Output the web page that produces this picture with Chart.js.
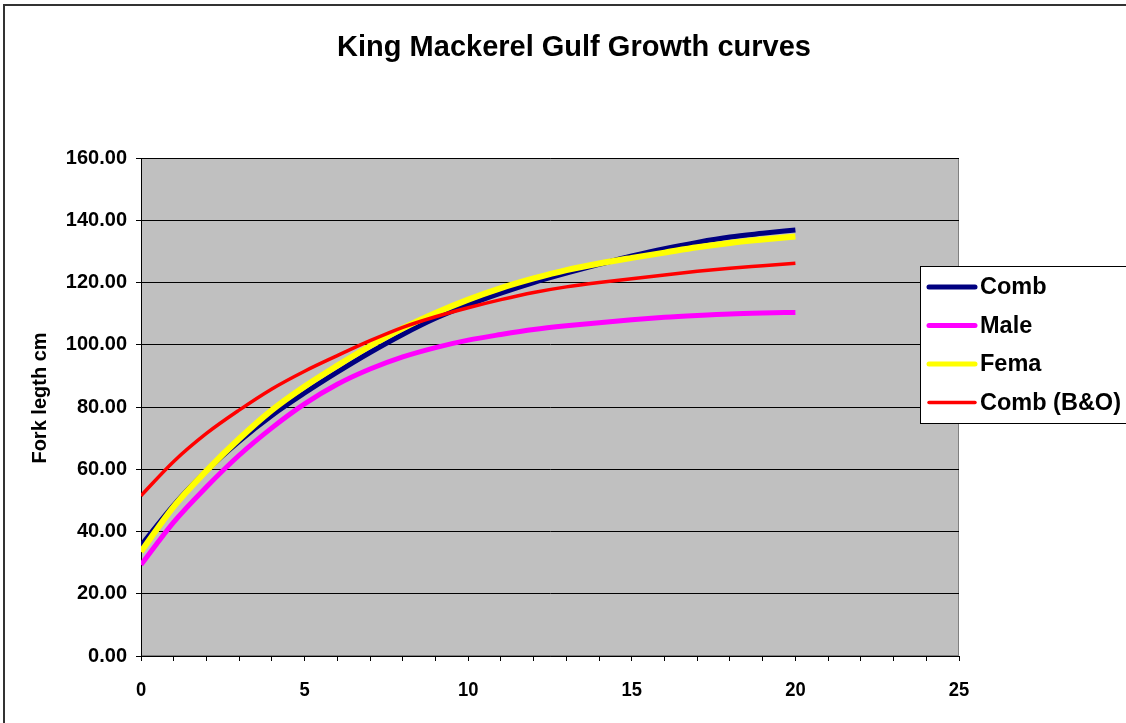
<!DOCTYPE html>
<html>
<head>
<meta charset="utf-8">
<script src="https://cdn.jsdelivr.net/npm/chart.js@4.4.1/dist/chart.umd.min.js"></script>
<style>
  html, body { margin: 0; padding: 0; background: #fff; }
  #wrap { width: 1126px; height: 723px; }
</style>
</head>
<body>
<div id="wrap"><canvas id="growth"></canvas></div>
<script>
// values (age in years, fork length in cm)
const ages = [0, 1, 2, 3, 4, 5, 6, 7, 8, 9, 10, 11, 12, 13, 14, 15, 16, 17, 18, 19, 20];
const comb = [35.5, 48.5, 59.5, 69, 77.3, 84.5, 91.2, 97.5, 103.3, 108.5, 112.8, 116.6, 120, 123, 125.8, 128.5, 130.9, 132.9, 134.6, 135.8, 136.9];
const male = [29.3, 43, 54.3, 64.5, 73.3, 81, 87.3, 92.2, 96.1, 99.1, 101.5, 103.3, 104.9, 106.1, 107.1, 108, 108.8, 109.4, 109.9, 110.2, 110.4];
const fema = [33.5, 48, 59.5, 69.8, 79, 86.6, 93.3, 99.6, 105.3, 110.2, 114.5, 118.2, 121.3, 124, 126.1, 127.9, 129.6, 131.3, 132.7, 133.8, 134.8];
const combBO = [51.5, 62.5, 71.5, 79, 85.8, 91.5, 96.5, 101.3, 105.6, 109, 111.9, 114.5, 116.8, 118.6, 120, 121.2, 122.4, 123.6, 124.6, 125.4, 126.2];
const yTicks = [0, 20, 40, 60, 80, 100, 120, 140, 160];
const xLabels = [0, 5, 10, 15, 20, 25];

const seriesNames = ['Comb', 'Male', 'Fema', 'Comb (B&O)'];
const seriesColors = ['#000080', '#ff00ff', '#ffff00', '#ff0000'];
const seriesWidths = [5, 5, 6, 3.5];
const seriesValues = [comb, male, fema, combBO];

const FONT = 'Arial, "Liberation Sans", sans-serif';

const decor = {
  id: 'decor',
  beforeDraw(chart) {
    const { ctx, chartArea: a } = chart;
    ctx.save();
    ctx.fillStyle = '#ffffff';
    ctx.fillRect(0, 0, chart.width, chart.height);
    ctx.fillStyle = '#c0c0c0';
    ctx.fillRect(a.left, a.top, a.right - a.left, a.bottom - a.top);
    ctx.strokeStyle = '#808080';
    ctx.lineWidth = 1;
    ctx.strokeRect(a.left + 0.5, a.top + 0.5, a.right - a.left - 1, a.bottom - a.top - 1);
    // outer chart border (right / bottom edges fall outside the picture)
    ctx.strokeStyle = '#333333';
    ctx.lineWidth = 2;
    ctx.beginPath();
    ctx.moveTo(4, chart.height);
    ctx.lineTo(4, 5);
    ctx.lineTo(chart.width, 5);
    ctx.stroke();
    ctx.restore();
  },
  afterDraw(chart) {
    const { ctx } = chart;
    ctx.save();
    ctx.fillStyle = '#000';

    // title
    ctx.font = 'bold 29px ' + FONT;
    ctx.textAlign = 'center';
    ctx.textBaseline = 'middle';
    ctx.fillText('King Mackerel Gulf Growth curves', 574, 48);

    // y axis title
    ctx.save();
    ctx.translate(40, 398);
    ctx.rotate(-Math.PI / 2);
    ctx.font = 'bold 20px ' + FONT;
    ctx.fillText('Fork legth cm', 0, 0);
    ctx.restore();

    // x tick labels
    const xs = chart.scales.x;
    ctx.font = 'bold 20px ' + FONT;
    xLabels.forEach(v => {
      ctx.save();
      ctx.translate(xs.getPixelForValue(v), 690);
      ctx.scale(0.92, 1);
      ctx.fillText(String(v), 0, 0);
      ctx.restore();
    });

    // legend
    const lx = 920, ly = 266, lh = 157;
    ctx.fillStyle = '#ffffff';
    ctx.fillRect(lx, ly, chart.width - lx + 2, lh);
    ctx.strokeStyle = '#000';
    ctx.lineWidth = 1;
    ctx.strokeRect(lx + 0.5, ly + 0.5, chart.width - lx + 2, lh);
    ctx.font = 'bold 23.5px ' + FONT;
    ctx.textAlign = 'left';
    chart.data.datasets.forEach((ds, i) => {
      const y = 287 + i * 38.5;
      ctx.strokeStyle = ds.borderColor;
      ctx.lineWidth = Math.min(ds.borderWidth, 5);
      ctx.lineCap = 'round';
      ctx.beginPath();
      ctx.moveTo(929, y);
      ctx.lineTo(975, y);
      ctx.stroke();
      ctx.fillStyle = '#000';
      ctx.fillText(ds.label, 980, y + 1);
    });
    ctx.restore();
  }
};

new Chart(document.getElementById('growth'), {
  type: 'line',
  data: {
    datasets: seriesNames.map((name, i) => ({
      label: name,
      data: ages.map((age, j) => ({ x: age, y: seriesValues[i][j] })),
      borderColor: seriesColors[i],
      borderWidth: seriesWidths[i],
      pointRadius: 0,
      cubicInterpolationMode: 'monotone',
      order: seriesNames.length - i
    }))
  },
  options: {
    responsive: true,
    maintainAspectRatio: false,
    animation: false,
    events: [],
    layout: { padding: { top: 158, right: 167, left: 0, bottom: 0 } },
    plugins: {
      legend: { display: false },
      title: { display: false },
      tooltip: { enabled: false }
    },
    scales: {
      x: {
        type: 'linear',
        min: 0,
        max: 25,
        afterFit: s => { s.height = 67; },
        ticks: {
          stepSize: 1,
          autoSkip: false,
          color: 'rgba(0,0,0,0)',
          callback: v => (v % 5 === 0 ? String(v) : '')
        },
        grid: { drawOnChartArea: false, color: '#000', tickLength: 5 },
        border: { color: '#000', width: 1 }
      },
      y: {
        min: 0,
        max: 160,
        afterFit: s => { s.width = 141; },
        afterBuildTicks: s => { s.ticks = yTicks.map(v => ({ value: v })); },
        ticks: {
          color: '#000',
          padding: 9,
          font: { family: FONT, size: 20, weight: 'bold' },
          callback: v => v.toFixed(2)
        },
        grid: { color: '#000', lineWidth: 1, tickLength: 5 },
        border: { color: '#000', width: 1 }
      }
    }
  },
  plugins: [decor]
});
</script>
</body>
</html>
